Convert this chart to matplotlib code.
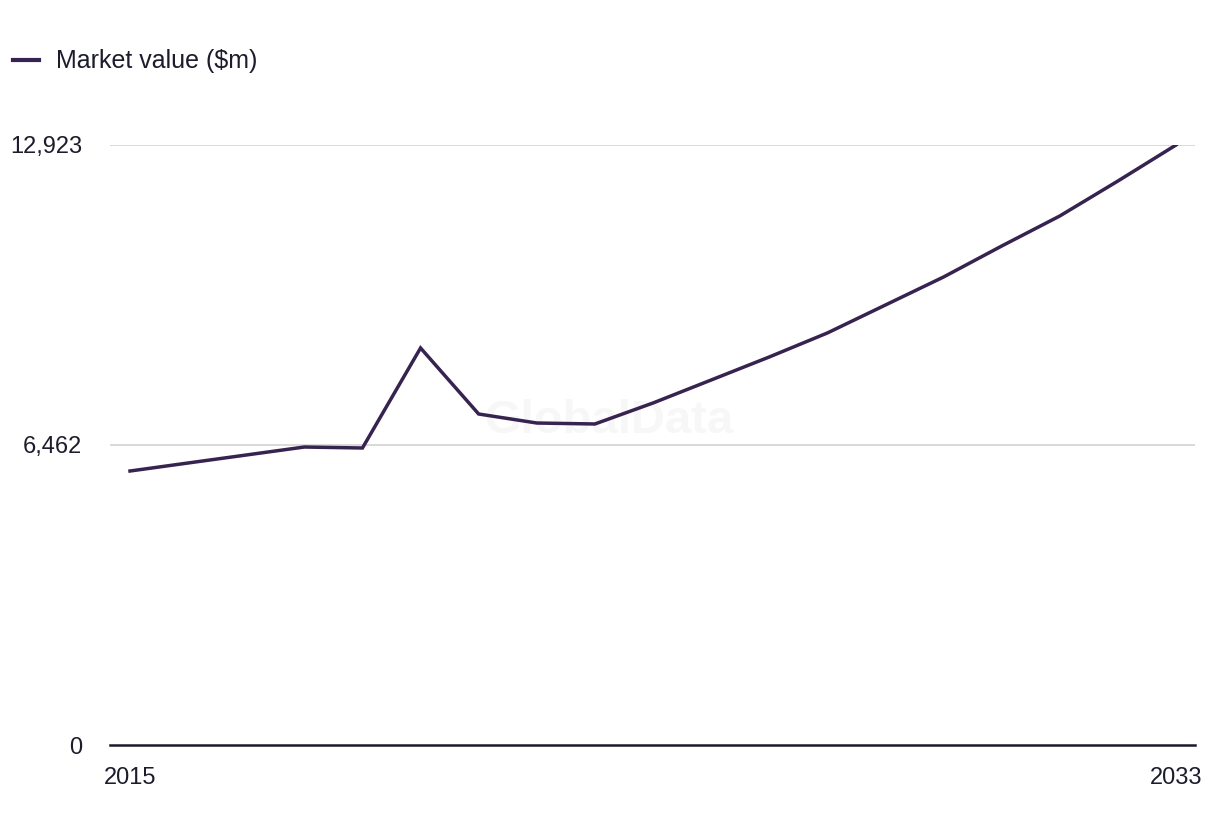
import numpy as np
import matplotlib.pyplot as plt
from matplotlib.lines import Line2D

plt.rcParams['font.family'] = ['Liberation Sans', 'DejaVu Sans']

years = np.arange(2015, 2034)
market_value = [5901, 6074, 6246, 6418, 6397, 8551, 7129, 6935, 6914, 7366,
                7861, 8357, 8874, 9477, 10080, 10747, 11394, 12147, 12923]
y_ticks = [0, 6462, 12923]
y_labels = ['0', '6,462', '12,923']
x_ticks = [2015, 2033]
series_name = 'Market value ($m)'

line_color = '#36234f'
text_color = '#1c1c2c'

fig = plt.figure(figsize=(12.2, 8.36), dpi=100)
ax = fig.add_axes([110 / 1220, 91 / 836, 1085 / 1220, 600 / 836])

ax.plot(years, market_value, color=line_color, linewidth=2.5, solid_joinstyle='miter', zorder=3)

ax.set_xlim(2015 - 20 / 58.11, 2033 + 19 / 58.11)
ax.set_ylim(0, 12923)

ax.set_yticks(y_ticks)
ax.set_yticklabels(y_labels)
ax.set_xticks(x_ticks)
ax.set_xticklabels([str(x) for x in x_ticks])
ax.tick_params(axis='y', length=0, pad=20, labelsize=17, labelcolor=text_color)
ax.tick_params(axis='x', length=0, pad=16, labelsize=17, labelcolor=text_color)

for v in y_ticks[1:]:
    ax.axhline(v, color='#d9d9d9', linewidth=1.4, zorder=1)

for s in ['top', 'right', 'left']:
    ax.spines[s].set_visible(False)
ax.spines['bottom'].set_color('#1a1a2e')
ax.spines['bottom'].set_linewidth(1.8)

# faint watermark
ax.text(0.46, 0.54, 'GlobalData', transform=ax.transAxes, ha='center', va='center',
        fontsize=34, fontweight='bold', color='#f7f7f7', zorder=0)

# legend at top left
handle = Line2D([], [], color=line_color, linewidth=3)
fig.legend([handle], [series_name], loc='upper left', bbox_to_anchor=(-0.004, 0.962),
           frameon=False, fontsize=18, handlelength=1.05, handletextpad=0.7,
           borderaxespad=0.3, labelcolor=text_color)

fig.savefig('out.png', dpi=100)
